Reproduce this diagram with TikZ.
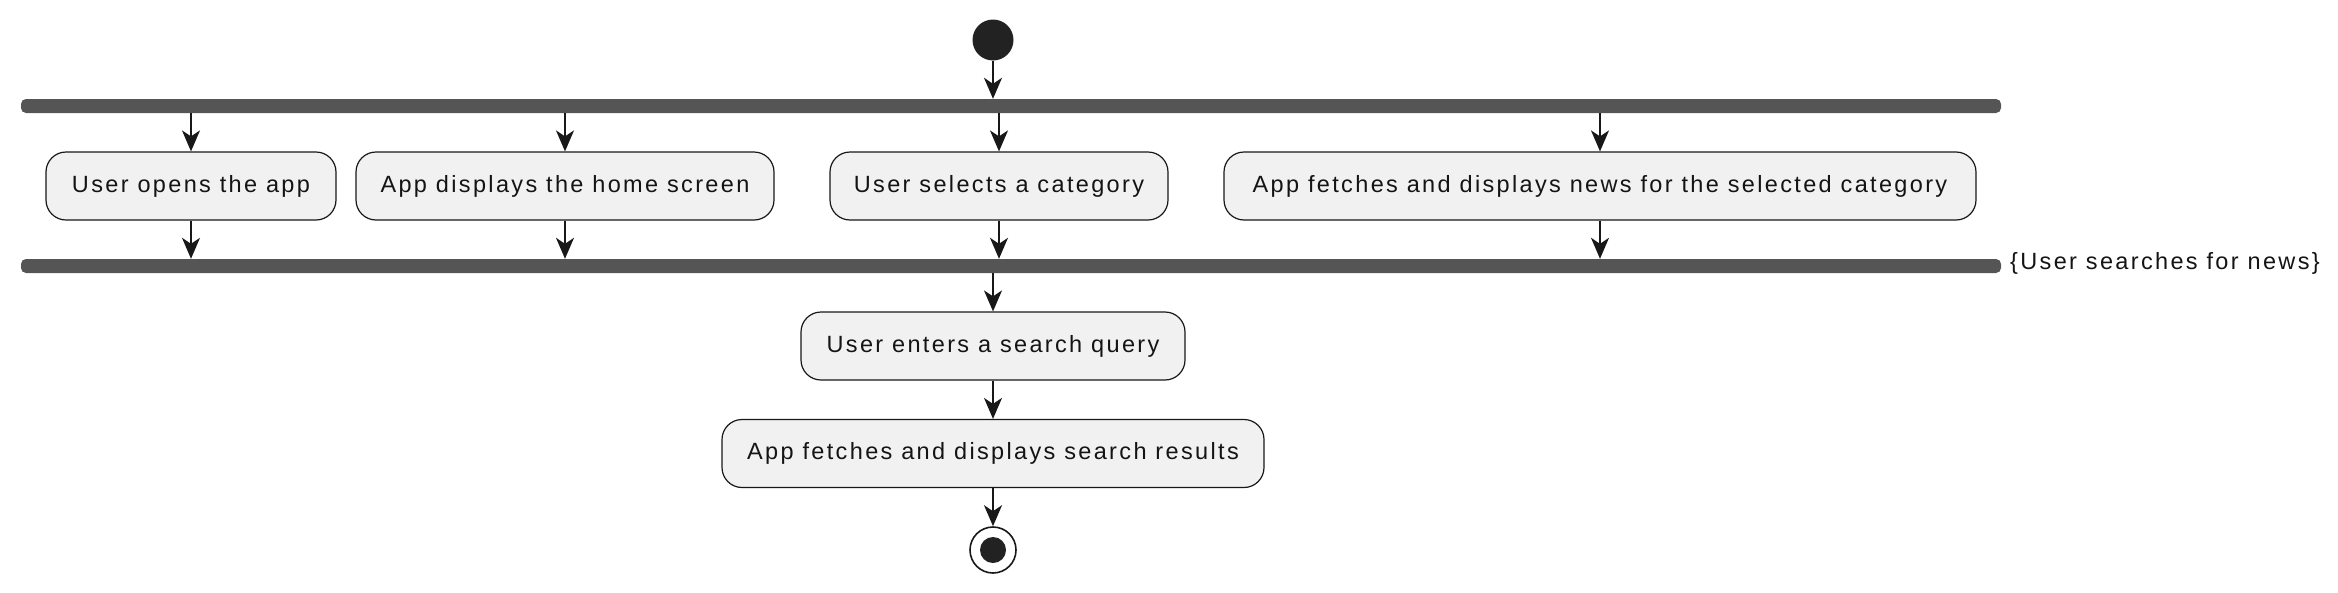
\documentclass[tikz,border=0pt]{standalone}
\usepackage{fontspec}
\setmainfont{Liberation Sans}[LetterSpace=10]
\usetikzlibrary{arrows.meta}
\definecolor{barcol}{HTML}{555555}
\definecolor{boxfill}{HTML}{F1F1F1}
\definecolor{linecol}{HTML}{181818}
\definecolor{dotcol}{HTML}{222222}
\tikzset{
  actbox/.style={draw=linecol, line width=1.2pt, fill=boxfill, rounded corners=20pt,
    minimum height=68pt, inner sep=0pt, font=\fontsize{23.5}{28}\selectfont, text=black!92},
  barbox/.style={fill=barcol, draw=none, rounded corners=5pt, minimum height=14pt, inner sep=0pt},
  arr/.style={draw=linecol, line width=1.8pt, -{Stealth[length=21pt,width=18pt,inset=6pt]}},
  lbl/.style={font=\fontsize{23.5}{28}\selectfont, inner sep=0pt, anchor=base west, text=black!92}
}
\begin{document}
\begin{tikzpicture}[x=1pt,y=-1pt]
\useasboundingbox (0,0) rectangle (2338,592);
% start
\node[circle, fill=dotcol, minimum size=41pt, inner sep=0pt] (start) at (993,40) {};
% fork and join bars
\node[barbox, minimum width=1980pt] (fork) at (1011,106) {};
\node[barbox, minimum width=1980pt] (join) at (1011,266) {};
\node[lbl] (jlabel) at (2010,269) {\{User searches for news\}};
% parallel activities
\node[actbox, minimum width=290pt] (b1) at (191,186) {User opens the app};
\node[actbox, minimum width=418pt] (b2) at (565,186) {App displays the home screen};
\node[actbox, minimum width=338pt] (b3) at (999,186) {User selects a category};
\node[actbox, minimum width=752pt] (b4) at (1600,186) {App fetches and displays news for the selected category};
% sequential activities
\node[actbox, minimum width=384pt] (b5) at (993,346) {User enters a search query};
\node[actbox, minimum width=542pt] (b6) at (993,453.5) {App fetches and displays search results};
% end
\node[circle, draw=linecol, line width=1.6pt, fill=white, minimum size=46pt, inner sep=0pt] (stop) at (993,550) {};
\node[circle, fill=dotcol, minimum size=26pt, inner sep=0pt] (stopdot) at (stop.center) {};
% connectors
\draw[arr] (start.south) -- (start.south |- fork.north);
\foreach \b in {b1,b2,b3,b4}{
  \draw[arr] (fork.south -| \b.north) -- (\b.north);
  \draw[arr] (\b.south) -- (\b.south |- join.north);
}
\draw[arr] (join.south -| b5.north) -- (b5.north);
\draw[arr] (b5.south) -- (b6.north);
\draw[arr] (b6.south) -- (stop.north);
\end{tikzpicture}
\end{document}
